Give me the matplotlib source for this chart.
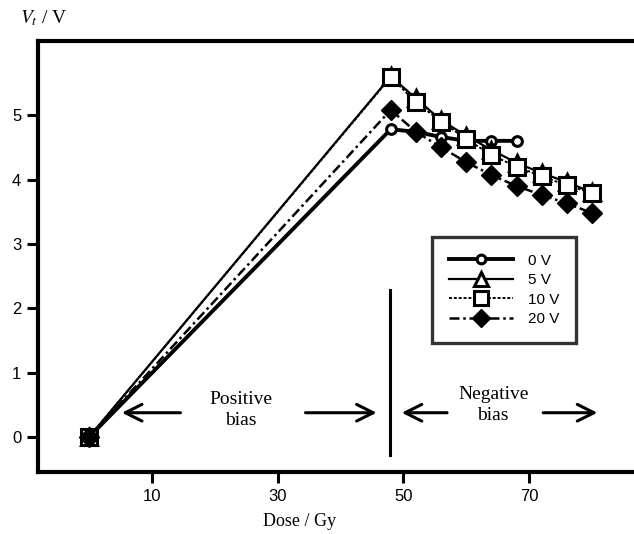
import matplotlib
matplotlib.use("Agg")
import matplotlib.pyplot as plt

# data
dose_0v = [0, 48, 52, 56, 60, 64, 68]
vt_0v = [0.0, 4.78, 4.74, 4.66, 4.60, 4.60, 4.60]

dose_long = [0, 48, 52, 56, 60, 64, 68, 72, 76, 80]
vt_5v = [0.0, 5.60, 5.26, 4.92, 4.68, 4.46, 4.26, 4.10, 3.96, 3.80]
vt_10v = [0.0, 5.59, 5.20, 4.90, 4.63, 4.38, 4.20, 4.05, 3.91, 3.79]
vt_20v = [0.0, 5.08, 4.74, 4.50, 4.27, 4.07, 3.90, 3.76, 3.63, 3.48]

labels = ["0 V", "5 V", "10 V", "20 V"]
xticks = [10, 30, 50, 70]
yticks = [0, 1, 2, 3, 4, 5]
bias_split = 47.8

serif = ["Liberation Serif", "DejaVu Serif"]
sans = ["Liberation Sans", "DejaVu Sans"]

fig = plt.figure(figsize=(6.34, 5.34), dpi=100)
ax = fig.add_axes([38 / 634, 62 / 534, 620 / 634, 431 / 534])

ax.plot(dose_0v, vt_0v, color="black", lw=2.8, ls="-", marker="o", ms=7,
        mfc="white", mec="black", mew=2.2, label=labels[0], zorder=3)
ax.plot(dose_long, vt_5v, color="black", lw=1.6, ls="-", marker="^", ms=11,
        mfc="white", mec="black", mew=2.2, label=labels[1], zorder=4)
ax.plot(dose_long, vt_10v, color="black", lw=1.4, ls=(0, (1.5, 1)), marker="s", ms=11,
        mfc="white", mec="black", mew=2.2, label=labels[2], zorder=5)
ax.plot(dose_long, vt_20v, color="black", lw=1.8, ls=(0, (4, 1.5, 1, 1.5)), marker="D", ms=10,
        mfc="black", mec="black", mew=1, label=labels[3], zorder=6)

ax.set_xlim(-8.1, 90.5)
ax.set_ylim(-0.54, 6.15)
ax.set_xticks(xticks)
ax.set_yticks(yticks)
ax.tick_params(direction="out", length=8, width=2.2, labelsize=12, pad=4)
for lab in ax.get_xticklabels() + ax.get_yticklabels():
    lab.set_family(sans)
for side in ["left", "bottom", "top"]:
    ax.spines[side].set_linewidth(3)
ax.spines["right"].set_visible(False)

# bias split line and annotations
ax.plot([bias_split, bias_split], [-0.28, 2.28], color="black", lw=2.2)
arrow = dict(arrowstyle="->", lw=2.2, color="black", mutation_scale=30)
ay = 0.38
ax.annotate("", xy=(4.8, ay), xytext=(15, ay), arrowprops=arrow)
ax.annotate("", xy=(46.2, ay), xytext=(34, ay), arrowprops=arrow)
ax.annotate("", xy=(49.3, ay), xytext=(57.4, ay), arrowprops=arrow)
ax.annotate("", xy=(81.3, ay), xytext=(71.8, ay), arrowprops=arrow)
ax.text(24.2, 0.42, "Positive\nbias", ha="center", va="center", fontsize=14,
        family=serif, linespacing=1.35)
ax.text(64.3, 0.5, "Negative\nbias", ha="center", va="center", fontsize=14,
        family=serif, linespacing=1.35)

leg = ax.legend(loc="upper left", bbox_to_anchor=(394 / 620, 235 / 431), frameon=True,
                fancybox=False, edgecolor="black", handlelength=4.2, handletextpad=1.0,
                borderpad=1.1, borderaxespad=0, labelspacing=0.35, markerscale=0.9,
                prop={"family": sans, "size": 11})
leg.get_frame().set_linewidth(2.4)

fig.text(20 / 634, 1 - 18 / 534, r"$V_t$ / V", ha="left", va="center", fontsize=14,
         family=serif, math_fontfamily="stix")
fig.text(300 / 634, 1 - 522 / 534, "Dose / Gy", ha="center", va="center", fontsize=13,
         family=serif)

fig.savefig("out.png", dpi=100)
